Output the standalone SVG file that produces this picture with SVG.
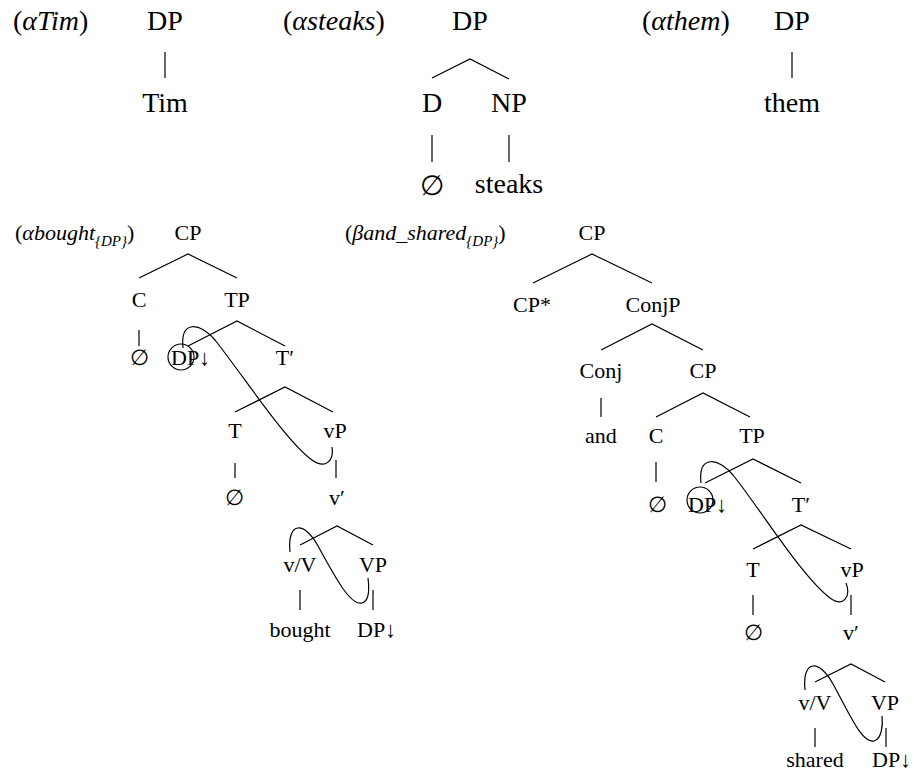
<svg xmlns="http://www.w3.org/2000/svg" width="914" height="783" viewBox="0 0 914 783">
<style>
.big{font-size:28px}
.sm{font-size:22px}
.n{text-anchor:middle}
.i{font-style:italic}
.sub{font-size:15px;font-style:italic}
line,path,circle,polyline{stroke:#000;stroke-width:1.2;fill:none}
</style>
<rect width="914" height="783" fill="#fff"/>
<g id="labels" font-family="Liberation Serif, DejaVu Serif, serif">
<text class="big" x="13" y="30">(<tspan class="i">αTim</tspan>)</text>
<text class="big" x="283" y="30">(<tspan class="i">αsteaks</tspan>)</text>
<text class="big" x="642" y="30">(<tspan class="i">αthem</tspan>)</text>
<text class="sm" x="15" y="240">(<tspan class="i">αbought</tspan><tspan class="sub" dy="6">{DP}</tspan><tspan dy="-6">)</tspan></text>
<text class="sm" x="345" y="240">(<tspan class="i">βand_shared</tspan><tspan class="sub" dy="6">{DP}</tspan><tspan dy="-6">)</tspan></text>
</g>
<g id="tim-tree" font-family="Liberation Serif, DejaVu Serif, serif">
<text id="tim-dp" class="big n" x="165" y="30">DP</text>
<text id="tim-word" class="big n" x="165" y="112">Tim</text>
</g>
<g id="steaks-tree" font-family="Liberation Serif, DejaVu Serif, serif">
<text id="st-dp" class="big n" x="470" y="30">DP</text>
<text id="st-d" class="big n" x="432" y="112">D</text>
<text id="st-np" class="big n" x="509" y="112">NP</text>
<text id="st-empty" class="big n" x="432" y="195">∅</text>
<text id="st-word" class="big n" x="509" y="193">steaks</text>
</g>
<g id="them-tree" font-family="Liberation Serif, DejaVu Serif, serif">
<text id="th-dp" class="big n" x="792" y="30">DP</text>
<text id="th-word" class="big n" x="792" y="112">them</text>
</g>
<g id="bought-tree" font-family="Liberation Serif, DejaVu Serif, serif">
<text id="b-cp" class="sm n" x="188" y="240">CP</text>
<text id="b-c" class="sm n" x="139" y="307">C</text>
<text id="b-tp" class="sm n" x="237" y="307">TP</text>
<text id="b-c-empty" class="sm n" x="139" y="365">∅</text>
<text id="b-dp" class="sm" x="171" y="365">DP↓</text>
<text id="b-tbar" class="sm n" x="285" y="365">T′</text>
<text id="b-t" class="sm n" x="235" y="438">T</text>
<text id="b-vp" class="sm n" x="335" y="438">vP</text>
<text id="b-t-empty" class="sm n" x="234" y="505">∅</text>
<text id="b-vbar" class="sm n" x="337" y="505">v′</text>
<text id="b-vv" class="sm n" x="300" y="572">v/V</text>
<text id="b-vp2" class="sm n" x="373" y="572">VP</text>
<text id="b-word" class="sm n" x="300" y="637">bought</text>
<text id="b-dp2" class="sm" x="357" y="637">DP↓</text>
</g>
<g id="shared-tree" font-family="Liberation Serif, DejaVu Serif, serif">
<text id="s-cp" class="sm n" x="592" y="240">CP</text>
<text id="s-cpstar" class="sm n" x="532" y="312">CP*</text>
<text id="s-conjp" class="sm n" x="653" y="312">ConjP</text>
<text id="s-conj" class="sm n" x="601" y="378">Conj</text>
<text id="s-cp2" class="sm n" x="703" y="378">CP</text>
<text id="s-and" class="sm n" x="601" y="443">and</text>
<text id="s-c" class="sm n" x="656" y="443">C</text>
<text id="s-tp" class="sm n" x="752" y="443">TP</text>
<text id="s-c-empty" class="sm n" x="657" y="512">∅</text>
<text id="s-dp" class="sm" x="688" y="512">DP↓</text>
<text id="s-tbar" class="sm n" x="801" y="512">T′</text>
<text id="s-t" class="sm n" x="753" y="577">T</text>
<text id="s-vp" class="sm n" x="852" y="577">vP</text>
<text id="s-t-empty" class="sm n" x="753" y="640">∅</text>
<text id="s-vbar" class="sm n" x="851" y="640">v′</text>
<text id="s-vv" class="sm n" x="815" y="710">v/V</text>
<text id="s-vp2" class="sm n" x="885" y="710">VP</text>
<text id="s-word" class="sm n" x="815" y="767">shared</text>
<text id="s-dp2" class="sm" x="872" y="767">DP↓</text>
</g>
<g id="connectors">
<line x1="165" y1="52" x2="165" y2="78"/>
<polyline points="432,78 470,59 509,79"/>
<line x1="432" y1="135" x2="432" y2="162"/>
<line x1="509" y1="135" x2="509" y2="162"/>
<line x1="792" y1="52" x2="792" y2="78"/>
<polyline points="139,278 188,254 237,278"/>
<line x1="139" y1="330" x2="139" y2="346"/>
<polyline points="188,346 237,321 285,346"/>
<polyline points="235,412 285,387 333,412"/>
<line x1="235" y1="463" x2="235" y2="478"/>
<line x1="336" y1="460" x2="336" y2="478"/>
<polyline points="300,545 337,526 373,545"/>
<line x1="300" y1="590" x2="300" y2="610"/>
<line x1="373" y1="590" x2="373" y2="610"/>
<circle cx="181" cy="357" r="13"/>
<path d="M183,348 C180,320 200,322 215,340 C245,378 285,440 312,460 C326,470 334,460 332,447"/>
<path d="M290,552 C287,520 305,522 318,546 C334,575 350,606 362,603 C370,601 369,586 368,578"/>
<polyline points="533,283 592,254 652,283"/>
<polyline points="601,350 652,324 703,350"/>
<line x1="601" y1="398" x2="601" y2="417"/>
<polyline points="656,417 703,393 750,417"/>
<line x1="656" y1="462" x2="656" y2="482"/>
<polyline points="705,483 753,459 801,483"/>
<polyline points="753,549 801,525 851,549"/>
<line x1="753" y1="595" x2="753" y2="615"/>
<line x1="851" y1="595" x2="851" y2="615"/>
<polyline points="815,682 851,664 885,682"/>
<line x1="815" y1="728" x2="815" y2="747"/>
<line x1="886" y1="728" x2="886" y2="747"/>
<circle cx="700" cy="500" r="13"/>
<path d="M701,483 C698,455 718,457 733,475 C763,513 803,578 830,598 C844,608 851,596 846,583"/>
<path d="M805,690 C802,658 820,660 833,684 C849,713 862,744 874,741 C882,739 883,724 882,716"/>
</g>
</svg>
